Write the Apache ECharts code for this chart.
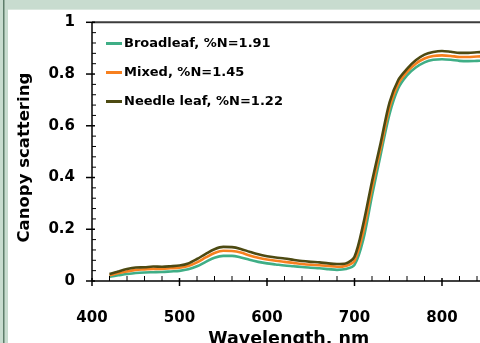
<!DOCTYPE html>
<html>
<head>
<meta charset="utf-8">
<script src="https://cdn.jsdelivr.net/npm/echarts@6/dist/echarts.min.js"></script>
<style>
  html, body { margin: 0; padding: 0; background: #fff; }
  #chart { width: 480px; height: 343px; }
</style>
</head>
<body>
<div id="chart"></div>
<script>
const wavelengths = [420, 430, 440, 450, 460, 470, 480, 490, 500, 510, 520, 530, 540, 550, 560, 570, 580, 590, 600,
  610, 620, 630, 640, 650, 660, 670, 680, 690, 700, 710, 720, 730, 740, 750, 760, 770, 780, 790, 800,
  810, 820, 830, 840, 850]

const broadleaf = [0.017, 0.022, 0.027, 0.031, 0.033, 0.034, 0.035, 0.037, 0.039, 0.045, 0.057, 0.074, 0.090, 0.097,
  0.097, 0.091, 0.082, 0.074, 0.068, 0.064, 0.060, 0.057, 0.054, 0.051, 0.049, 0.046, 0.043, 0.046, 0.062,
  0.16, 0.33, 0.49, 0.645, 0.745, 0.795, 0.825, 0.845, 0.855, 0.857, 0.855, 0.851, 0.850, 0.851, 0.852]

const mixed = [0.022, 0.030, 0.037, 0.043, 0.045, 0.047, 0.047, 0.049, 0.051, 0.058, 0.072, 0.091, 0.108, 0.117,
  0.116, 0.110, 0.099, 0.090, 0.083, 0.078, 0.074, 0.070, 0.066, 0.063, 0.061, 0.058, 0.055, 0.058, 0.078,
  0.19, 0.36, 0.515, 0.67, 0.762, 0.808, 0.840, 0.860, 0.870, 0.872, 0.870, 0.866, 0.866, 0.868, 0.869]

const needleleaf = [0.027, 0.037, 0.046, 0.052, 0.053, 0.056, 0.055, 0.057, 0.060, 0.068, 0.085, 0.105, 0.123, 0.132,
  0.131, 0.124, 0.113, 0.103, 0.096, 0.091, 0.087, 0.082, 0.077, 0.074, 0.072, 0.068, 0.066, 0.068, 0.094,
  0.22, 0.385, 0.535, 0.69, 0.777, 0.82, 0.853, 0.875, 0.885, 0.889, 0.886, 0.882, 0.882, 0.884, 0.886]

const seriesNames = ['Broadleaf, %N=1.91', 'Mixed, %N=1.45', 'Needle leaf, %N=1.22']
const seriesColors = ['#3fae86', '#f7801f', '#4d4a12']

// tick positions, in data units
const xMajorTicks = [400, 500, 600, 700, 800]
const xMinorTicks = [420, 440, 460, 480, 520, 540, 560, 580, 620, 640, 660, 680, 720, 740, 760, 780, 820, 840]
const yMajorTicks = [0, 0.2, 0.4, 0.6, 0.8, 1]
const yMinorTicks = [0.04, 0.08, 0.12, 0.16, 0.24, 0.28, 0.32, 0.36, 0.44, 0.48, 0.52, 0.56,
  0.64, 0.68, 0.72, 0.76, 0.84, 0.88, 0.92, 0.96]

const pair = (vals) => wavelengths.map((w, i) => [w, vals[i]])

const font = '"DejaVu Sans", sans-serif'

const chart = echarts.init(document.getElementById('chart'), null, { renderer: 'canvas' })

const background = [
  { type: 'rect', shape: { x: 0, y: 0, width: 480, height: 10 }, style: { fill: '#c8dccf' }, silent: true },
  { type: 'rect', shape: { x: 0, y: 9, width: 480, height: 1 }, style: { fill: '#dbe8df' }, silent: true },
  { type: 'rect', shape: { x: 0, y: 0, width: 8, height: 343 }, style: { fill: '#c8dccf' }, silent: true },
  { type: 'rect', shape: { x: 3, y: 0, width: 1.5, height: 343 }, style: { fill: '#5e7e6b' }, silent: true },
]

// plot runs past the right edge: 400 nm at x=92, 800 nm at x=442
const option = {
  animation: false,
  backgroundColor: '#ffffff',
  graphic: background,
  grid: { left: 92, top: 22.3, width: 437.5, height: 258.7, outerBoundsMode: 'none' },
  legend: {
    orient: 'vertical',
    left: 101,
    top: 32,
    itemWidth: 16,
    itemHeight: 3,
    itemGap: 16,
    icon: 'rect',
    data: seriesNames,
    textStyle: { fontFamily: font, fontWeight: 'bold', fontSize: 13, color: '#000', padding: [0, 0, 0, -3] },
  },
  xAxis: {
    type: 'value',
    min: 400,
    max: 900,
    interval: 100,
    splitLine: { show: false },
    axisLine: { show: false },
    axisTick: { show: false },
    name: 'Wavelength, nm',
    nameLocation: 'middle',
    nameGap: 32,
    nameTextStyle: { fontFamily: font, fontWeight: 'bold', fontSize: 17.5, color: '#000', padding: [0, 44, 0, 0] },
    axisLabel: { fontFamily: font, fontWeight: 'bold', fontSize: 15, color: '#000', margin: 30, showMaxLabel: false },
  },
  yAxis: {
    type: 'value',
    min: 0,
    max: 1,
    interval: 0.2,
    splitLine: { show: false },
    axisLine: { show: false },
    axisTick: { show: false },
    name: 'Canopy scattering',
    nameLocation: 'middle',
    nameGap: 59,
    nameTextStyle: { fontFamily: font, fontWeight: 'bold', fontSize: 16.5, color: '#000', padding: [0, 12, 0, 0] },
    axisLabel: { fontFamily: font, fontWeight: 'bold', fontSize: 15, color: '#000', margin: 17 },
  },
  series: [broadleaf, mixed, needleleaf].map((vals, i) => ({
    name: seriesNames[i],
    type: 'line',
    data: pair(vals),
    showSymbol: false,
    symbol: 'none',
    smooth: 0.3,
    z: 2 + i,
    color: seriesColors[i],
    lineStyle: { color: seriesColors[i], width: 2.6 },
  })),
}

chart.setOption(option)

// axis lines and crossing ticks, placed through the chart's own scales
const px = (x, y) => chart.convertToPixel({ xAxisIndex: 0, yAxisIndex: 0 }, [x, y])
const line = (x1, y1, x2, y2, w, color) => ({
  type: 'line', silent: true, z: 10,
  shape: { x1, y1, x2, y2 },
  style: { stroke: color || '#000', lineWidth: w },
})

const [x0, yBottom] = px(400, 0)
const yTop = px(400, 1)[1]
const xEnd = px(900, 0)[0]
const axes = [
  line(x0, yTop, xEnd, yTop, 2, '#3c3c3c'),
  line(x0, yBottom, xEnd, yBottom, 1.5),
  line(x0, yTop, x0, yBottom, 1.5),
]
xMajorTicks.forEach((v) => { const x = px(v, 0)[0]; axes.push(line(x, yBottom - 3, x, yBottom + 5, 1.5)) })
xMinorTicks.forEach((v) => { const x = px(v, 0)[0]; axes.push(line(x, yBottom - 5, x, yBottom, 1)) })
yMajorTicks.forEach((v) => { const y = px(400, v)[1]; axes.push(line(x0 - 6, y, x0 + 3, y, 1.5)) })
yMinorTicks.forEach((v) => { const y = px(400, v)[1]; axes.push(line(x0, y, x0 + 4, y, 1)) })

chart.setOption({ graphic: background.concat(axes) })
</script>
</body>
</html>
